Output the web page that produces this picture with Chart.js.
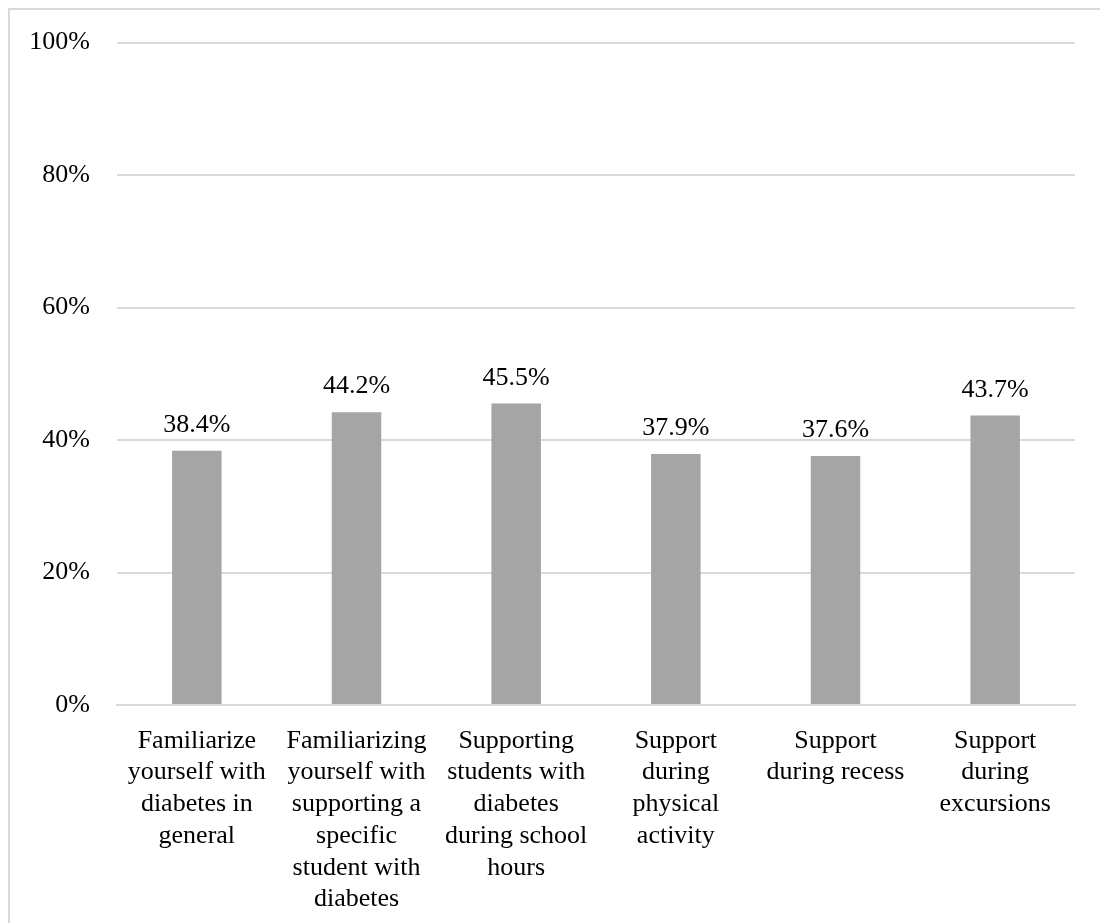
<!DOCTYPE html>
<html>
<head>
<meta charset="utf-8">
<script src="https://cdn.jsdelivr.net/npm/chart.js@4.4.1/dist/chart.umd.min.js"></script>
<style>
  html, body { margin: 0; padding: 0; background: #fff; }
  #wrap { position: relative; width: 1100px; height: 923px; overflow: hidden; }
  #frame {
    position: absolute; left: 8px; top: 8px; width: 1200px; height: 1000px;
    border-left: 2px solid #d9d9d9; border-top: 2px solid #d9d9d9;
  }
  canvas { position: absolute; left: 0; top: 0; }
</style>
</head>
<body>
<div id="wrap">
  <div id="frame"></div>
  <canvas id="chart" width="1100" height="923"></canvas>
</div>
<script>
// Share of respondents per support area
const categories = [
  ['Familiarize', 'yourself with', 'diabetes in', 'general'],
  ['Familiarizing', 'yourself with', 'supporting a', 'specific', 'student with', 'diabetes'],
  ['Supporting', 'students with', 'diabetes', 'during school', 'hours'],
  ['Support', 'during', 'physical', 'activity'],
  ['Support', 'during recess'],
  ['Support', 'during', 'excursions']
];
const values = [38.4, 44.2, 45.5, 37.9, 37.6, 43.7];
const yTicks = [0, 20, 40, 60, 80, 100];

const FONT = '"Liberation Serif", "Times New Roman", serif';

// writes the percentage above each bar
const barLabels = {
  id: 'barLabels',
  afterDatasetsDraw(chart) {
    const { ctx } = chart;
    const meta = chart.getDatasetMeta(0);
    ctx.save();
    ctx.font = '26px ' + FONT;
    ctx.fillStyle = '#000';
    ctx.textAlign = 'center';
    ctx.textBaseline = 'alphabetic';
    meta.data.forEach((bar, i) => {
      ctx.fillText(values[i].toFixed(1) + '%', bar.x, bar.y - 19);
    });
    ctx.restore();
  }
};

new Chart(document.getElementById('chart'), {
  type: 'bar',
  data: {
    labels: categories,
    datasets: [{
      data: values,
      backgroundColor: '#a5a5a5',
      categoryPercentage: 1,
      barPercentage: 0.31
    }]
  },
  plugins: [barLabels],
  options: {
    responsive: false,
    animation: false,
    layout: { padding: { left: 20, right: 25, top: 26, bottom: 4 } },
    plugins: {
      legend: { display: false },
      tooltip: { enabled: false }
    },
    scales: {
      x: {
        grid: { display: false },
        border: { color: '#d9d9d9', width: 2 },
        ticks: {
          color: '#000',
          font: { family: FONT, size: 26, lineHeight: 1.22 },
          maxRotation: 0,
          autoSkip: false,
          padding: 12
        },
        afterFit: (s) => { s.height = 214; }
      },
      y: {
        min: 0,
        max: 100,
        afterBuildTicks: (s) => { s.ticks = yTicks.map(v => ({ value: v })); },
        grid: { color: '#d9d9d9', lineWidth: 2, drawTicks: false },
        border: { display: false },
        ticks: {
          color: '#000',
          font: { family: FONT, size: 26 },
          padding: 27,
          callback: (v) => v + '%'
        },
        afterFit: (s) => { s.width = 97; }
      }
    }
  }
});
</script>
</body>
</html>
